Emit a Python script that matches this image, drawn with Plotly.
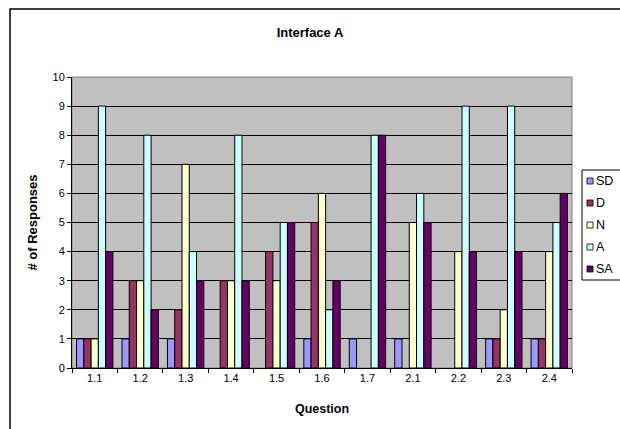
import plotly.graph_objects as go

questions = ["1.1", "1.2", "1.3", "1.4", "1.5", "1.6", "1.7", "2.1", "2.2", "2.3", "2.4"]
sd = [1, 1, 1, 0, 0, 1, 1, 1, 0, 1, 1]
d = [1, 3, 2, 3, 4, 5, 0, 0, 0, 1, 1]
n = [1, 3, 7, 3, 3, 6, 0, 5, 4, 2, 4]
a = [9, 8, 4, 8, 5, 2, 8, 6, 9, 9, 5]
sa = [4, 2, 3, 3, 5, 3, 8, 5, 4, 4, 6]

series = [("SD", sd, "#9999FF"), ("D", d, "#993366"), ("N", n, "#FFFFCC"),
          ("A", a, "#CCFFFF"), ("SA", sa, "#660066")]

L, R, T, B = 72, 48, 77, 61
W, H = 620, 429
pw, ph = W - L - R, H - T - B

def px(x):
    return (x - L) / pw

def py(y):
    return (H - B - y) / ph

fig = go.Figure()
for name, vals, col in series:
    fig.add_trace(go.Bar(x=questions, y=vals, name=name, hoverinfo="skip",
                         marker=dict(color=col,
                                     line=dict(color="black",
                                               width=[1 if v > 0 else 0 for v in vals]))))

fig.update_layout(
    width=W, height=H,
    margin=dict(l=L, r=R, t=T, b=B, autoexpand=False),
    paper_bgcolor="white", plot_bgcolor="#C0C0C0",
    barmode="group", bargap=0.2, bargroupgap=0,
    font=dict(family="Liberation Sans, Arial", size=11, color="black"),
    title=dict(text="<b>Interface A</b>", x=0.5, xanchor="center", y=1 - 32 / H, yanchor="middle",
               font=dict(size=13)),
    showlegend=False,
    xaxis=dict(type="category", showgrid=False, showline=True, linecolor="black", linewidth=1,
               ticks="outside", tickson="boundaries", ticklen=4, tickcolor="black",
               title=dict(text="<b>Question</b>", standoff=21, font=dict(size=12.5))),
    yaxis=dict(range=[0, 10], dtick=1, showgrid=True, gridcolor="black", gridwidth=1,
               showline=True, linecolor="black", linewidth=1, zeroline=False,
               ticks="outside", ticklen=4, tickcolor="black",
               title=dict(text="<b># of Responses</b>", standoff=11, font=dict(size=13))),
)

# plot area border (gray)
fig.add_shape(type="rect", xref="paper", yref="paper", x0=0, x1=1, y0=0, y1=1,
              line=dict(color="#808080", width=1), layer="below")
# outer chart frame
fig.add_shape(type="rect", xref="paper", yref="paper",
              x0=px(10), x1=px(630), y0=py(440), y1=py(9),
              line=dict(color="black", width=1.5))

# legend (manual)
fig.add_shape(type="rect", xref="paper", yref="paper",
              x0=px(582), x1=px(626), y0=py(280), y1=py(170),
              line=dict(color="black", width=1), fillcolor="white")
for i, (name, vals, col) in enumerate(series):
    yc = 181 + 22 * i
    fig.add_shape(type="rect", xref="paper", yref="paper",
                  x0=px(587), x1=px(593), y0=py(yc + 3), y1=py(yc - 3),
                  line=dict(color="black", width=0.8), fillcolor=col)
    fig.add_annotation(xref="paper", yref="paper", x=px(594), y=py(yc),
                       text=name, showarrow=False, xanchor="left", yanchor="middle",
                       font=dict(size=12.5))

fig.write_html("out.html", config={"displayModeBar": False},
               post_script="document.body.style.margin='0';document.body.style.overflow='hidden';")
